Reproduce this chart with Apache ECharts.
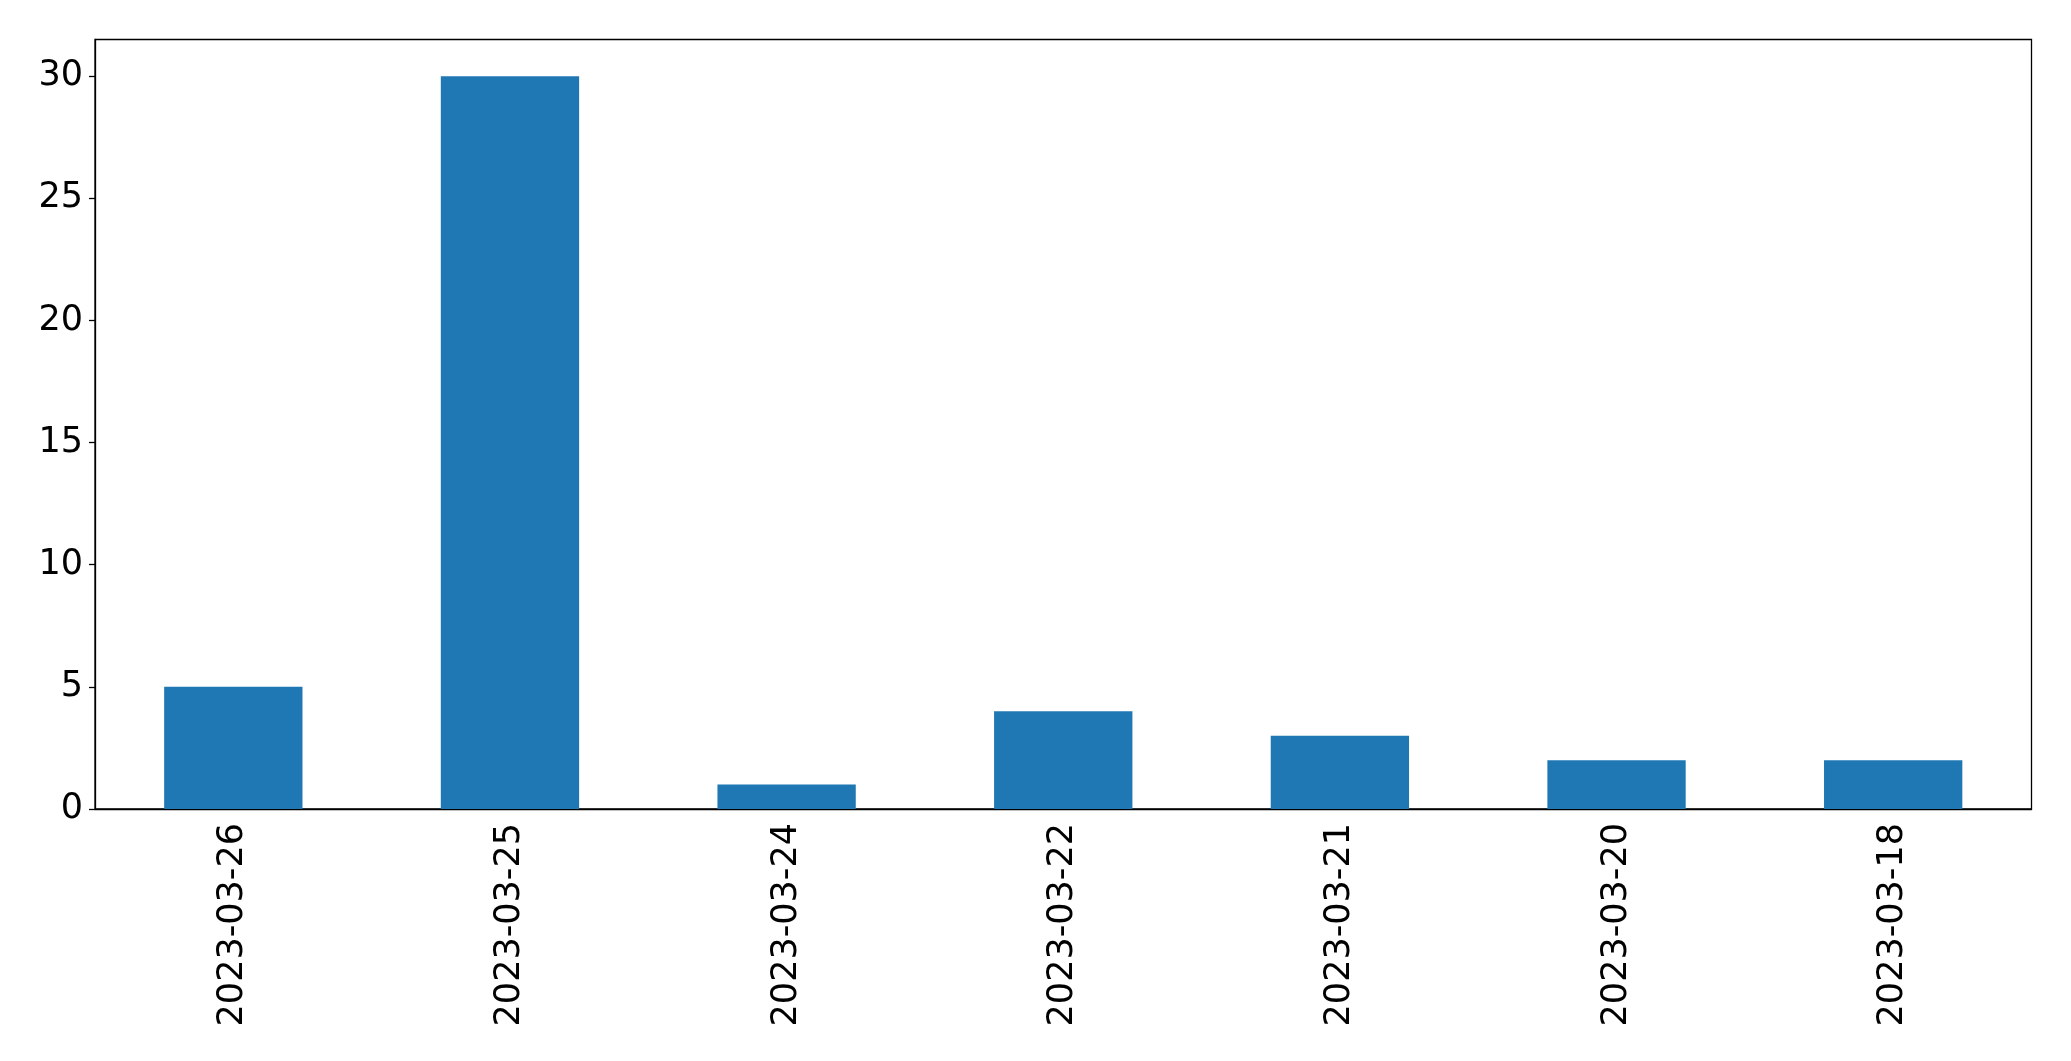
<!DOCTYPE html>
<html><head><meta charset="utf-8">
<script src="https://cdn.jsdelivr.net/npm/echarts@6/dist/echarts.min.js"></script>
<style>html,body{margin:0;padding:0;background:#fff}#c{width:2071px;height:1061px}</style>
</head><body><div id="c"></div>
<script>
const categories = ["2023-03-26","2023-03-25","2023-03-24","2023-03-22","2023-03-21","2023-03-20","2023-03-18"];
const values = [5, 30, 1, 4, 3, 2, 2];
const yTicks = [0, 5, 10, 15, 20, 25, 30];

const chart = echarts.init(document.getElementById('c'), null, {renderer: 'canvas'});
const font = 'DejaVu Sans';
chart.setOption({
  animation: false,
  grid: {left: 95, right: 39.5, top: 39.5, bottom: 252, show: true, borderColor: '#000', borderWidth: 1.3, backgroundColor: 'transparent'},
  xAxis: {
    type: 'category', data: categories, boundaryGap: true,
    axisLine: {lineStyle: {color: '#000', width: 1.3}},
    axisTick: {alignWithLabel: true, length: 5, lineStyle: {color: '#000', width: 1.3}},
    axisLabel: {rotate: 90, color: '#000', fontFamily: font, fontSize: 35, margin: 14, interval: 0},
    splitLine: {show: false}
  },
  yAxis: {
    type: 'value', min: 0, max: 31.5, interval: 5,
    axisLine: {show: true, lineStyle: {color: '#000', width: 1.3}},
    axisTick: {show: true, length: 6, lineStyle: {color: '#000', width: 1.3}, customValues: yTicks},
    axisLabel: {color: '#000', fontFamily: font, fontSize: 35, margin: 12, customValues: yTicks},
    splitLine: {show: false}
  },
  series: [{
    type: 'bar', data: values, barWidth: '50%',
    itemStyle: {color: '#1f77b4'}
  }]
});
</script></body></html>
